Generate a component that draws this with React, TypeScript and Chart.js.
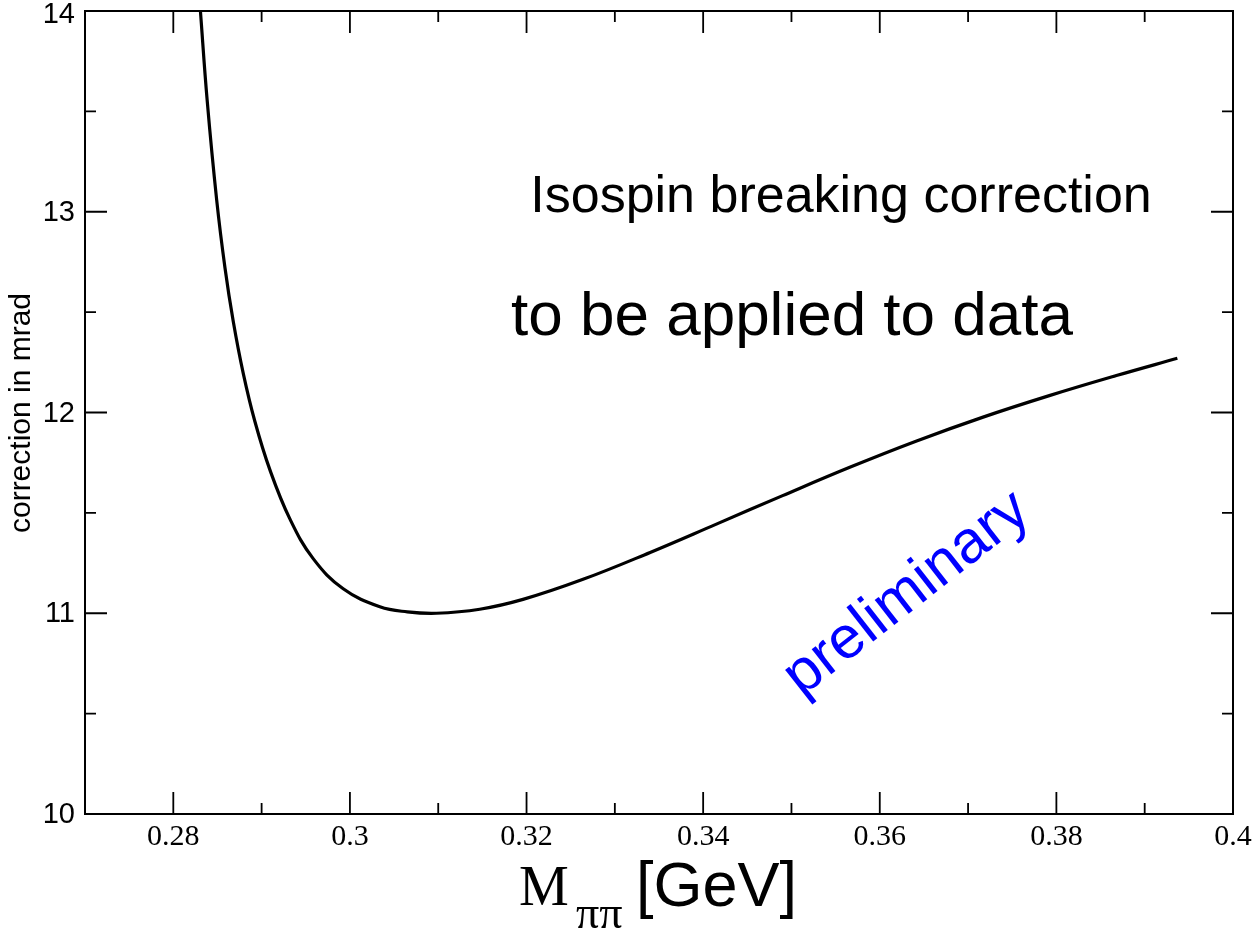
import { useEffect, useRef } from "react";
import { Chart, registerables } from "chart.js";

Chart.register(...registerables);

// Isospin breaking correction vs. dipion invariant mass
const MASS_GEV = [
  0.2829, 0.28307, 0.28383, 0.28491, 0.28585, 0.28679, 0.28792, 0.28924, 0.29094,
  0.2932, 0.29584, 0.29924, 0.30339, 0.3065, 0.3098, 0.3147, 0.3196, 0.3264,
  0.334, 0.3415, 0.349, 0.3566, 0.3641, 0.3717, 0.3792, 0.3868, 0.3937,
];
const CORRECTION_MRAD = [
  14.1, 14.0, 13.557, 13.059, 12.721, 12.453, 12.195, 11.955, 11.714,
  11.47, 11.272, 11.122, 11.032, 11.007, 11.0, 11.02, 11.069, 11.169,
  11.303, 11.444, 11.586, 11.727, 11.857, 11.977, 12.084, 12.184, 12.27,
];

const X_MAJOR = [0.28, 0.3, 0.32, 0.34, 0.36, 0.38, 0.4];
const X_MINOR = [0.29, 0.31, 0.33, 0.35, 0.37, 0.39];
const Y_MAJOR = [10, 11, 12, 13, 14];
const Y_MINOR = [10.5, 11.5, 12.5, 13.5];

const PAGE_W = 1255;
const PAGE_H = 936;

const SANS = '"Liberation Sans", Arial, Helvetica, sans-serif';
const SERIF = '"Liberation Serif", "Times New Roman", Times, serif';

const frameAndLabels = {
  id: "frameAndLabels",
  afterDraw(chart: any) {
    const { ctx, chartArea: a, scales } = chart;
    const xs = scales.x;
    const ys = scales.y;
    ctx.save();
    ctx.strokeStyle = "#000";
    ctx.lineWidth = 2;
    ctx.strokeRect(a.left, a.top, a.right - a.left, a.bottom - a.top);

    // inward ticks on all four sides
    ctx.lineWidth = 1.8;
    ctx.beginPath();
    const xTick = (v: number, len: number) => {
      const px = xs.getPixelForValue(v);
      ctx.moveTo(px, a.bottom);
      ctx.lineTo(px, a.bottom - len);
      ctx.moveTo(px, a.top);
      ctx.lineTo(px, a.top + len);
    };
    const yTick = (v: number, len: number) => {
      const py = ys.getPixelForValue(v);
      ctx.moveTo(a.left, py);
      ctx.lineTo(a.left + len, py);
      ctx.moveTo(a.right, py);
      ctx.lineTo(a.right - len, py);
    };
    X_MAJOR.forEach((v) => xTick(v, 22));
    X_MINOR.forEach((v) => xTick(v, 11));
    Y_MAJOR.forEach((v) => yTick(v, 22));
    Y_MINOR.forEach((v) => yTick(v, 11));
    ctx.stroke();

    ctx.fillStyle = "#000";

    // y tick labels, kept inside the canvas at the top edge
    ctx.font = `29px ${SANS}`;
    ctx.textAlign = "right";
    ctx.textBaseline = "middle";
    Y_MAJOR.forEach((v) => {
      const py = Math.max(ys.getPixelForValue(v), a.top + 3);
      ctx.fillText(String(v), a.left - 10, py + 1);
    });

    ctx.textBaseline = "alphabetic";

    // annotations
    ctx.textAlign = "center";
    ctx.font = `52px ${SANS}`;
    ctx.fillText("Isospin breaking correction", 841, 212);
    ctx.font = `62px ${SANS}`;
    ctx.fillText("to be applied to data", 792, 335);

    ctx.save();
    ctx.translate(907, 594);
    ctx.rotate((-38 * Math.PI) / 180);
    ctx.fillStyle = "#0000ff";
    ctx.font = `60px ${SANS}`;
    ctx.textAlign = "center";
    ctx.textBaseline = "middle";
    ctx.fillText("preliminary", 0, 0);
    ctx.restore();

    // x axis title: M_ππ [GeV]
    ctx.textAlign = "left";
    ctx.font = `56px ${SERIF}`;
    ctx.fillText("M", 519, 905);
    ctx.font = `46px ${SERIF}`;
    ctx.fillText("ππ", 576, 928);
    ctx.font = `63px ${SANS}`;
    ctx.fillText("[GeV]", 636, 906);

    // y axis title
    ctx.save();
    ctx.translate(30, 413);
    ctx.rotate(-Math.PI / 2);
    ctx.font = `30px ${SANS}`;
    ctx.textAlign = "center";
    ctx.textBaseline = "alphabetic";
    ctx.fillText("correction in mrad", 0, 0);
    ctx.restore();

    ctx.restore();
  },
};

export default function App() {
  const canvasRef = useRef<HTMLCanvasElement | null>(null);

  useEffect(() => {
    const canvas = canvasRef.current;
    if (!canvas) return;
    const points = MASS_GEV.map((x, i) => ({ x, y: CORRECTION_MRAD[i] }));
    const chart = new Chart(canvas, {
      type: "line",
      data: {
        datasets: [
          {
            data: points,
            borderColor: "#000",
            borderWidth: 3.2,
            pointRadius: 0,
            tension: 0.4,
            fill: false,
            clip: 0,
          },
        ],
      },
      options: {
        animation: false,
        responsive: false,
        maintainAspectRatio: false,
        events: [],
        layout: { padding: { top: 11, right: PAGE_W - 1233, left: 0, bottom: 0 } },
        plugins: {
          legend: { display: false },
          tooltip: { enabled: false },
          title: { display: false },
        },
        scales: {
          x: {
            type: "linear",
            min: 0.27,
            max: 0.4,
            grid: { display: false, drawTicks: false },
            border: { display: false },
            afterBuildTicks: (s: any) => {
              s.ticks = X_MAJOR.map((value) => ({ value }));
            },
            afterFit: (s: any) => {
              s.height = PAGE_H - 814;
              s.paddingLeft = 0;
              s.paddingRight = 0;
            },
            ticks: {
              color: "#000",
              padding: 5,
              maxRotation: 0,
              autoSkip: false,
              font: { family: SERIF, size: 30 },
              callback: (v: any) => String(v),
            },
          },
          y: {
            type: "linear",
            min: 10,
            max: 14,
            grid: { display: false, drawTicks: false },
            border: { display: false },
            afterBuildTicks: (s: any) => {
              s.ticks = Y_MAJOR.map((value) => ({ value }));
            },
            afterFit: (s: any) => {
              s.width = 85;
              s.paddingTop = 0;
              s.paddingBottom = 0;
            },
            ticks: { display: false },
          },
        },
      },
      plugins: [frameAndLabels],
    } as any);
    return () => chart.destroy();
  }, []);

  return (
    <div
      style={{
        position: "absolute",
        left: 0,
        top: 0,
        width: PAGE_W,
        height: PAGE_H,
        background: "#fff",
      }}
    >
      <canvas
        ref={canvasRef}
        width={PAGE_W}
        height={PAGE_H}
        style={{ width: PAGE_W, height: PAGE_H, display: "block" }}
      />
    </div>
  );
}
